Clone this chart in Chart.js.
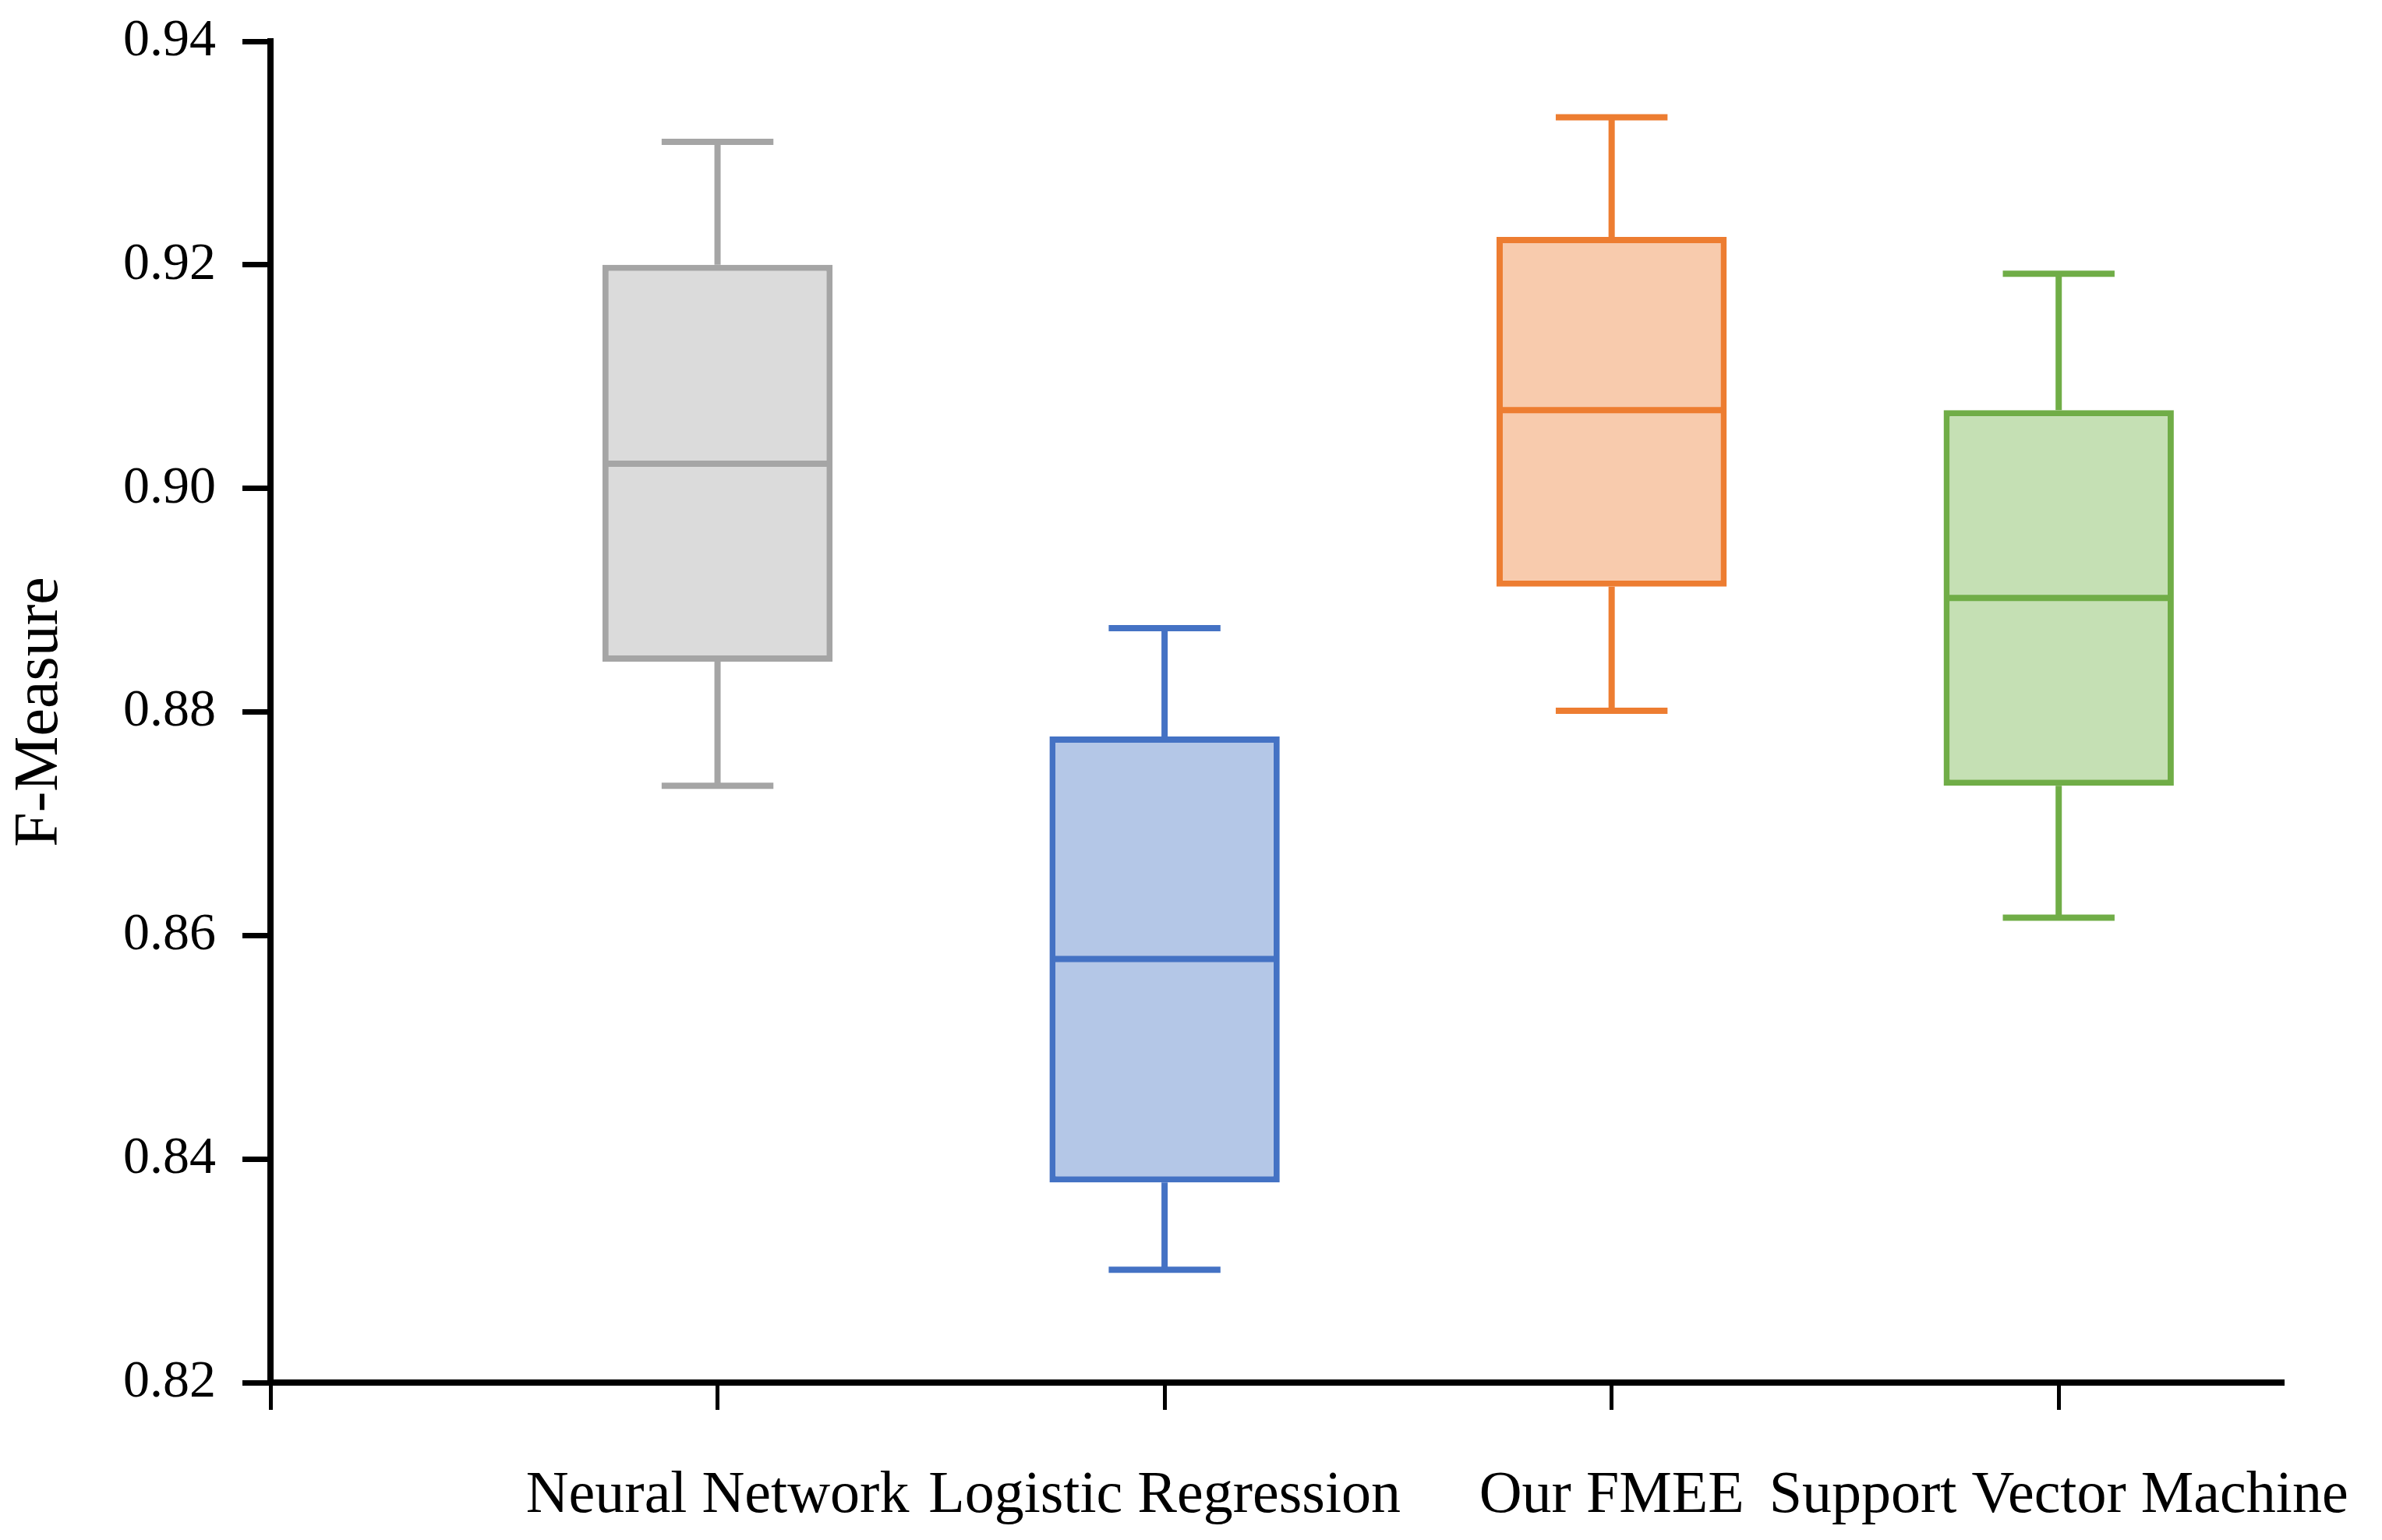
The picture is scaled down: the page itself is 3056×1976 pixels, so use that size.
<!DOCTYPE html>
<html>
<head>
<meta charset="utf-8">
<script src="https://cdn.jsdelivr.net/npm/chart.js@4.4.1/dist/chart.umd.min.js"></script>
<style>
  html, body { margin: 0; padding: 0; background: #fff; }
  canvas { display: block; }
</style>
</head>
<body>
<canvas id="boxChart" width="3056" height="1976"></canvas>
<script>
const categories = ['Neural Network', 'Logistic Regression', 'Our FMEE', 'Support Vector Machine'];
const whiskerMax = [0.9310, 0.8875, 0.9332, 0.9192];
const upperQuartile = [0.9200, 0.8778, 0.9225, 0.9070];
const medians = [0.9022, 0.8579, 0.9070, 0.8902];
const lowerQuartile = [0.8845, 0.8379, 0.8912, 0.8734];
const whiskerMin = [0.8734, 0.8301, 0.8801, 0.8616];
const yTicks = [0.82, 0.84, 0.86, 0.88, 0.90, 0.92, 0.94];

const fillColors = ['#dbdbdb', '#b4c7e7', '#f8cbad', '#c5e0b4'];
const lineColors = ['#a5a5a5', '#4472c4', '#ed7d31', '#70ad47'];

const font = 'Liberation Serif, Times New Roman, serif';

// whiskers, caps and medians drawn through the chart scales
const boxExtras = {
    id: 'boxExtras',
    afterDatasetsDraw(chart) {
        const ctx = chart.ctx;
        const x = chart.scales.x;
        const y = chart.scales.y;
        const unit = x.getPixelForValue(1) - x.getPixelForValue(0);
        ctx.save();
        ctx.lineWidth = 8;
        ctx.lineCap = 'butt';
        categories.forEach((c, i) => {
            const cx = x.getPixelForValue(i + 1);
            const halfBox = unit * 0.515 / 2 - 4;
            const halfCap = unit * 0.125;
            ctx.strokeStyle = lineColors[i];
            ctx.beginPath();
            ctx.moveTo(cx, y.getPixelForValue(upperQuartile[i]));
            ctx.lineTo(cx, y.getPixelForValue(whiskerMax[i]));
            ctx.moveTo(cx - halfCap, y.getPixelForValue(whiskerMax[i]));
            ctx.lineTo(cx + halfCap, y.getPixelForValue(whiskerMax[i]));
            ctx.moveTo(cx, y.getPixelForValue(lowerQuartile[i]));
            ctx.lineTo(cx, y.getPixelForValue(whiskerMin[i]));
            ctx.moveTo(cx - halfCap, y.getPixelForValue(whiskerMin[i]));
            ctx.lineTo(cx + halfCap, y.getPixelForValue(whiskerMin[i]));
            ctx.moveTo(cx - halfBox, y.getPixelForValue(medians[i]));
            ctx.lineTo(cx + halfBox, y.getPixelForValue(medians[i]));
            ctx.stroke();
        });
        ctx.restore();
    }
};

const ctx = document.getElementById('boxChart').getContext('2d');
const boxChart = new Chart(ctx, {
    type: 'bar',
    data: {
        datasets: [{
            data: categories.map((c, i) => ({ x: i + 1, y: [lowerQuartile[i], upperQuartile[i]] })),
            backgroundColor: fillColors,
            borderColor: lineColors,
            borderWidth: 8,
            borderSkipped: false,
            barPercentage: 0.515,
            categoryPercentage: 1
        }]
    },
    options: {
        responsive: false,
        devicePixelRatio: 1,
        animation: false,
        layout: { padding: { top: 53, right: 128, bottom: 18, left: 0 } },
        plugins: {
            legend: { display: false },
            tooltip: { enabled: false }
        },
        scales: {
            x: {
                type: 'linear',
                min: 0,
                max: 4.5,
                offset: false,
                afterBuildTicks: (scale) => {
                    scale.ticks = [0, 1, 2, 3, 4].map(v => ({ value: v }));
                },
                afterFit: (scale) => {
                    scale.height = 35 + 73 + 76;
                    scale.paddingLeft = 0;
                    scale.paddingRight = 0;
                },
                ticks: {
                    autoSkip: false,
                    maxRotation: 0,
                    padding: 73,
                    color: '#000',
                    font: { family: font, size: 76, lineHeight: 1.0 },
                    callback: (v) => categories[v - 1] || ''
                },
                grid: {
                    offset: false,
                    drawOnChartArea: false,
                    drawTicks: true,
                    tickLength: 35,
                    color: '#000',
                    lineWidth: 5
                },
                border: { display: true, color: '#000', width: 8 }
            },
            y: {
                min: 0.82,
                max: 0.94,
                afterBuildTicks: (scale) => {
                    scale.ticks = yTicks.map(v => ({ value: v }));
                },
                afterFit: (scale) => {
                    scale.width = 347;
                    scale.paddingTop = 0;
                    scale.paddingBottom = 0;
                },
                ticks: {
                    padding: 34,
                    color: '#000',
                    font: { family: font, size: 68 },
                    callback: (v) => v.toFixed(2)
                },
                grid: {
                    drawOnChartArea: false,
                    drawTicks: true,
                    tickLength: 36,
                    color: '#000',
                    lineWidth: 7
                },
                border: { display: true, color: '#000', width: 8 },
                title: {
                    display: true,
                    text: 'F-Measure',
                    color: '#000',
                    font: { family: font, size: 80 },
                    padding: { top: 4, bottom: 0 }
                }
            }
        }
    },
    plugins: [boxExtras]
});
</script>
</body>
</html>
